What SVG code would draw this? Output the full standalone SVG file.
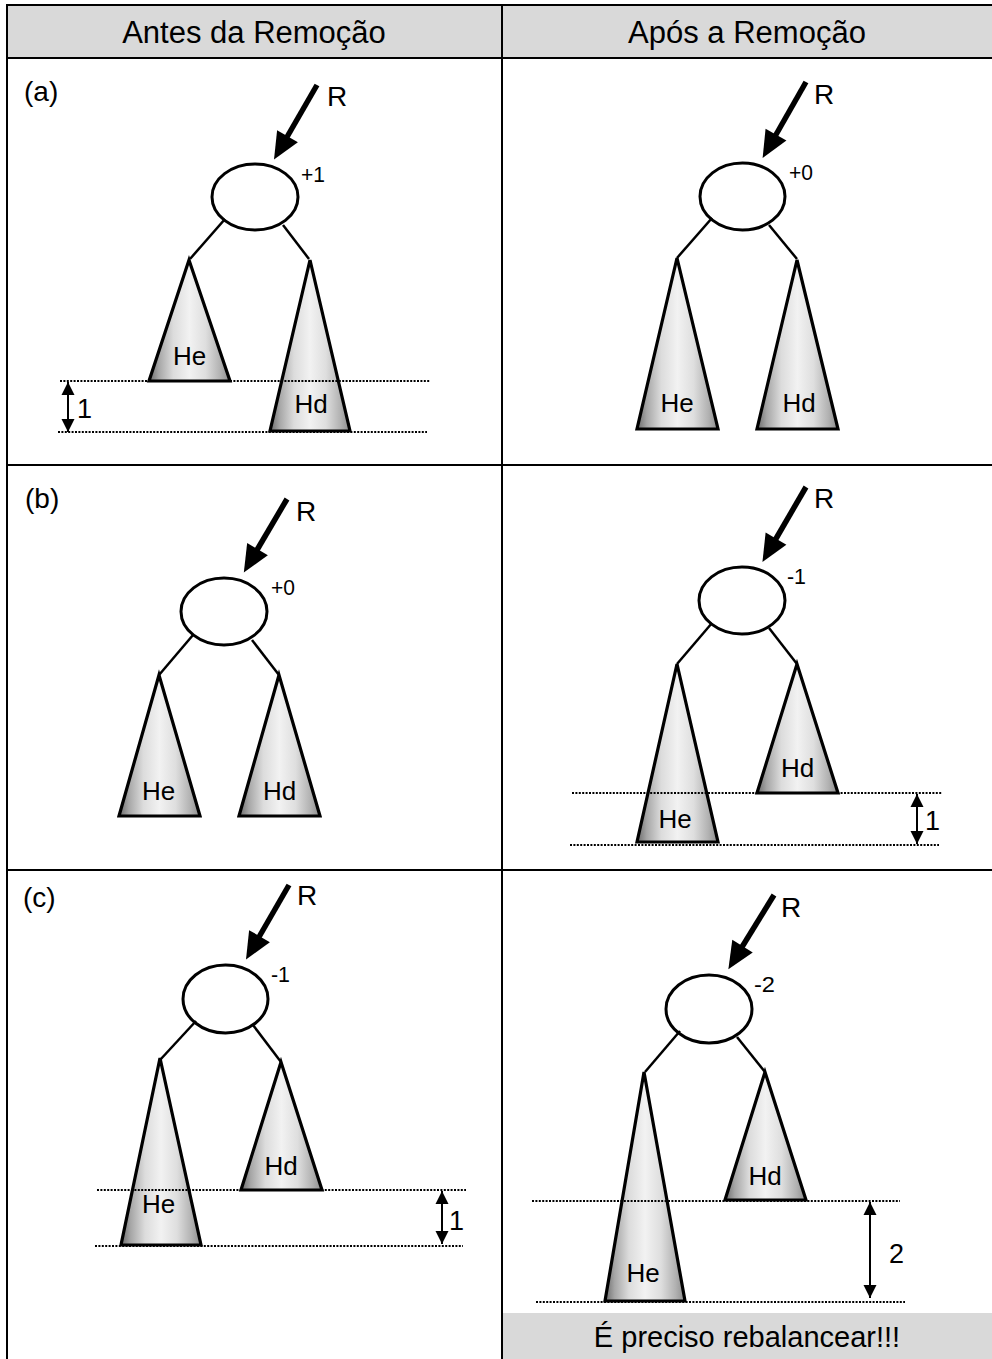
<svg xmlns="http://www.w3.org/2000/svg" width="992" height="1359" viewBox="0 0 992 1359">
<style>
.t{font-family:"Liberation Sans",Arial,sans-serif;fill:#000}
.hdr{font-size:31px;text-anchor:middle}
.lab{font-size:26px;text-anchor:middle}
.r{font-size:28px}
.bal{font-size:22px}
.num{font-size:27px}
.grid{stroke:#000;stroke-width:2;fill:none}
.node{fill:#fff;stroke:#000;stroke-width:3}
.tri{fill:url(#g);stroke:#000;stroke-width:3.2;stroke-linejoin:miter}
.edge{stroke:#000;stroke-width:2.5;fill:none}
.ptr{stroke:#000;stroke-width:5.5;fill:none;marker-end:url(#big)}
.dot{stroke:#000;stroke-width:2;stroke-dasharray:2 1.4;fill:none}
.dim{stroke:#000;stroke-width:2;fill:none;marker-start:url(#sm);marker-end:url(#sm)}
</style>
<defs>
<linearGradient id="g" x1="0" y1="0" x2="1" y2="0">
<stop offset="0" stop-color="#6a6a6a"/>
<stop offset="0.12" stop-color="#a6a6a6"/>
<stop offset="0.3" stop-color="#dcdcdc"/>
<stop offset="0.5" stop-color="#f2f2f2"/>
<stop offset="0.7" stop-color="#dedede"/>
<stop offset="0.88" stop-color="#b2b2b2"/>
<stop offset="1" stop-color="#8c8c8c"/>
</linearGradient>
<marker id="big" markerUnits="userSpaceOnUse" markerWidth="30" markerHeight="26" refX="1" refY="12" orient="auto" overflow="visible">
<path d="M0,0 L27,12 L0,24 Z" fill="#000"/>
</marker>
<marker id="sm" markerUnits="userSpaceOnUse" markerWidth="14" markerHeight="14" refX="13" refY="6.5" orient="auto-start-reverse" overflow="visible">
<path d="M0,0 L13,6.5 L0,13 Z" fill="#000"/>
</marker>
</defs>

<g id="table">
<rect x="7" y="5" width="990" height="53" fill="#d9d9d9"/>
<rect x="502" y="1313" width="495" height="50" fill="#d9d9d9"/>
<line class="grid" x1="7" y1="5" x2="992" y2="5"/>
<line class="grid" x1="7" y1="58" x2="992" y2="58"/>
<line class="grid" x1="7" y1="465" x2="992" y2="465"/>
<line class="grid" x1="7" y1="870" x2="992" y2="870"/>
<line class="grid" x1="7" y1="4" x2="7" y2="1360"/>
<line class="grid" x1="502" y1="4" x2="502" y2="1360"/>
<text class="t hdr" x="254" y="43">Antes da Remoção</text>
<text class="t hdr" x="747" y="43">Após a Remoção</text>
<text class="t" x="747" y="1347" font-size="29" text-anchor="middle">É preciso rebalancear!!!</text>
<text class="t r" x="24" y="101">(a)</text>
<text class="t r" x="25" y="508">(b)</text>
<text class="t r" x="23" y="907">(c)</text>
</g>

<!-- (a) antes -->
<g id="a-root"><ellipse class="node" cx="255" cy="197" rx="43" ry="33"/><text class="t bal" x="301" y="182" textLength="24" lengthAdjust="spacingAndGlyphs">+1</text></g>
<g id="a-he"><path class="tri" d="M189,260 L149,381 L230,381 Z"/><text class="t lab" x="189.5" y="365">He</text></g>
<g id="a-hd"><path class="tri" d="M310,260 L270,431 L350,431 Z"/><text class="t lab" x="311" y="413">Hd</text></g>
<g id="a-R"><text class="t r" x="327" y="106">R</text></g>

<!-- (a) apos -->
<g id="a2-root"><ellipse class="node" cx="742.5" cy="196.5" rx="42.5" ry="33.5"/><text class="t bal" x="789" y="180" textLength="24" lengthAdjust="spacingAndGlyphs">+0</text></g>
<g id="a2-he"><path class="tri" d="M677,258 L637,429 L718,429 Z"/><text class="t lab" x="677" y="412">He</text></g>
<g id="a2-hd"><path class="tri" d="M797,260 L757,429 L838,429 Z"/><text class="t lab" x="799" y="412">Hd</text></g>
<g id="a2-R"><text class="t r" x="814" y="104">R</text></g>

<!-- (b) antes -->
<g id="b-root"><ellipse class="node" cx="224" cy="611.5" rx="43" ry="33.5"/><text class="t bal" x="271" y="595" textLength="24" lengthAdjust="spacingAndGlyphs">+0</text></g>
<g id="b-he"><path class="tri" d="M159,675 L119,816 L200,816 Z"/><text class="t lab" x="158.5" y="800">He</text></g>
<g id="b-hd"><path class="tri" d="M279,675 L239,816 L320,816 Z"/><text class="t lab" x="279.5" y="800">Hd</text></g>
<g id="b-R"><text class="t r" x="296" y="521">R</text></g>

<!-- (b) apos -->
<g id="b2-root"><ellipse class="node" cx="742" cy="600.5" rx="43" ry="33.5"/><text class="t bal" x="787" y="584" textLength="19" lengthAdjust="spacingAndGlyphs">-1</text></g>
<g id="b2-he"><path class="tri" d="M677,664 L637,842 L718,842 Z"/><text class="t lab" x="675" y="828">He</text></g>
<g id="b2-hd"><path class="tri" d="M797,664 L757,793 L838,793 Z"/><text class="t lab" x="797.5" y="777">Hd</text></g>
<g id="b2-R"><text class="t r" x="814" y="508">R</text></g>

<!-- (c) antes -->
<g id="c-root"><ellipse class="node" cx="225.5" cy="999" rx="42.5" ry="34"/><text class="t bal" x="271" y="982" textLength="19" lengthAdjust="spacingAndGlyphs">-1</text></g>
<g id="c-he"><path class="tri" d="M160,1058 L121,1245 L201,1245 Z"/><text class="t lab" x="158.5" y="1213">He</text></g>
<g id="c-hd"><path class="tri" d="M281,1062 L241,1190 L322,1190 Z"/><text class="t lab" x="281" y="1175">Hd</text></g>
<g id="c-R"><text class="t r" x="297" y="905">R</text></g>

<!-- (c) apos -->
<g id="c2-root"><ellipse class="node" cx="709" cy="1009" rx="43" ry="34"/><text class="t bal" x="754" y="992" textLength="21" lengthAdjust="spacingAndGlyphs">-2</text></g>
<g id="c2-he"><path class="tri" d="M644,1072 L605,1301 L685,1301 Z"/><text class="t lab" x="643" y="1282">He</text></g>
<g id="c2-hd"><path class="tri" d="M765,1072 L725,1200 L806,1200 Z"/><text class="t lab" x="765" y="1185">Hd</text></g>
<g id="c2-R"><text class="t r" x="781" y="917">R</text></g>

<g id="connectors">
<line class="ptr" x1="317" y1="85" x2="287" y2="137"/>
<line class="ptr" x1="806" y1="82" x2="775.5" y2="135.5"/>
<line class="ptr" x1="287" y1="499" x2="257" y2="550"/>
<line class="ptr" x1="806" y1="487" x2="775.5" y2="539.5"/>
<line class="ptr" x1="289" y1="885" x2="259" y2="937"/>
<line class="ptr" x1="774" y1="895" x2="742" y2="947"/>
<line class="edge" x1="225" y1="219" x2="190" y2="259"/>
<line class="edge" x1="283" y1="225" x2="309" y2="259"/>
<line class="edge" x1="712" y1="218" x2="677" y2="258"/>
<line class="edge" x1="769" y1="225" x2="797" y2="259"/>
<line class="edge" x1="193" y1="635" x2="159" y2="675"/>
<line class="edge" x1="252" y1="640" x2="279" y2="675"/>
<line class="edge" x1="712" y1="623" x2="677" y2="664"/>
<line class="edge" x1="769" y1="628" x2="797" y2="664"/>
<line class="edge" x1="196" y1="1021" x2="160" y2="1060"/>
<line class="edge" x1="253" y1="1025" x2="281" y2="1062"/>
<line class="edge" x1="680" y1="1031" x2="645" y2="1072"/>
<line class="edge" x1="737" y1="1037" x2="765" y2="1072"/>
<line class="dot" x1="60" y1="381" x2="430" y2="381"/>
<line class="dot" x1="58" y1="432" x2="427" y2="432"/>
<line class="dim" x1="68" y1="382" x2="68" y2="432"/>
<line class="dot" x1="572" y1="793" x2="942" y2="793"/>
<line class="dot" x1="570" y1="845" x2="939" y2="845"/>
<line class="dim" x1="917" y1="794" x2="917" y2="844"/>
<line class="dot" x1="97" y1="1190" x2="466" y2="1190"/>
<line class="dot" x1="95" y1="1246" x2="463" y2="1246"/>
<line class="dim" x1="442" y1="1191" x2="442" y2="1244"/>
<line class="dot" x1="532" y1="1201" x2="900" y2="1201"/>
<line class="dot" x1="536" y1="1302" x2="905" y2="1302"/>
<line class="dim" x1="870" y1="1202" x2="870" y2="1298"/>
</g>
<g id="dims">
<text class="t num" x="77" y="418">1</text>
<text class="t num" x="925" y="830">1</text>
<text class="t num" x="449" y="1230">1</text>
<text class="t num" x="889" y="1263">2</text>
</g>
</svg>
